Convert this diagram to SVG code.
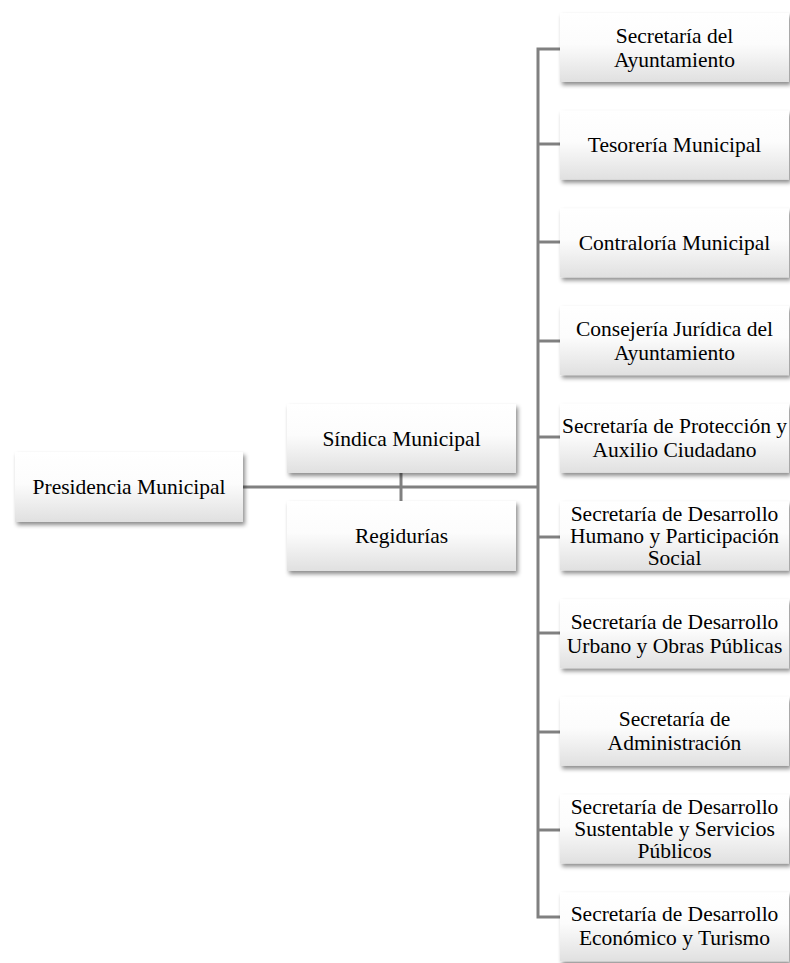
<svg xmlns="http://www.w3.org/2000/svg" width="790" height="963" viewBox="0 0 790 963">
<defs>
<linearGradient id="g" x1="0" y1="0" x2="0" y2="1">
<stop offset="0" stop-color="#ffffff"/>
<stop offset="0.45" stop-color="#fcfcfc"/>
<stop offset="1" stop-color="#e0e0e0"/>
</linearGradient>
<filter id="sh" x="-10%" y="-10%" width="125%" height="135%">
<feDropShadow dx="2" dy="3" stdDeviation="2" flood-color="#000" flood-opacity="0.45"/>
</filter>
</defs>
<style>
.box{fill:url(#g);filter:url(#sh);}
.t{font-family:"Liberation Serif","Times New Roman",serif;font-size:21.5px;fill:#000;text-anchor:middle;}
.c{stroke:#808080;stroke-width:3;fill:none;}
</style>
<rect width="790" height="963" fill="#ffffff"/>
<g id="connectors">
<line class="c" x1="243" y1="487" x2="538" y2="487"/>
<line class="c" x1="401" y1="473" x2="401" y2="501"/>
<polyline class="c" points="560,49 538,49 538,917 560,917"/>
<line class="c" x1="538" y1="144" x2="560" y2="144"/>
<line class="c" x1="538" y1="242" x2="560" y2="242"/>
<line class="c" x1="538" y1="341" x2="560" y2="341"/>
<line class="c" x1="538" y1="437" x2="560" y2="437"/>
<line class="c" x1="538" y1="537" x2="560" y2="537"/>
<line class="c" x1="538" y1="633" x2="560" y2="633"/>
<line class="c" x1="538" y1="732" x2="560" y2="732"/>
<line class="c" x1="538" y1="830" x2="560" y2="830"/>
</g>
<g id="presidencia">
<rect class="box" x="15" y="452" width="228" height="70"/>
<text class="t" x="129" y="494">Presidencia Municipal</text>
</g>
<g id="sindica">
<rect class="box" x="287" y="404" width="229" height="69"/>
<text class="t" x="401.5" y="446">Síndica Municipal</text>
</g>
<g id="regidurias">
<rect class="box" x="287" y="501" width="229" height="70"/>
<text class="t" x="401.5" y="543">Regidurías</text>
</g>
<g id="n0">
<rect class="box" x="560" y="13" width="229" height="69"/>
<text class="t" x="674.5" y="42.5">Secretaría del</text>
<text class="t" x="674.5" y="66.5">Ayuntamiento</text>
</g>
<g id="n1">
<rect class="box" x="560" y="110.7" width="229" height="69"/>
<text class="t" x="674.5" y="152">Tesorería Municipal</text>
</g>
<g id="n2">
<rect class="box" x="560" y="208.4" width="229" height="69"/>
<text class="t" x="674.5" y="250">Contraloría Municipal</text>
</g>
<g id="n3">
<rect class="box" x="560" y="306.1" width="229" height="69"/>
<text class="t" x="674.5" y="335.6">Consejería Jurídica del</text>
<text class="t" x="674.5" y="359.6">Ayuntamiento</text>
</g>
<g id="n4">
<rect class="box" x="560" y="403.8" width="229" height="69"/>
<text class="t" x="674.5" y="433">Secretaría de Protección y</text>
<text class="t" x="674.5" y="457">Auxilio Ciudadano</text>
</g>
<g id="n5">
<rect class="box" x="560" y="501.5" width="229" height="69"/>
<text class="t" x="674.5" y="521">Secretaría de Desarrollo</text>
<text class="t" x="674.5" y="543">Humano y Participación</text>
<text class="t" x="674.5" y="565">Social</text>
</g>
<g id="n6">
<rect class="box" x="560" y="599.2" width="229" height="69"/>
<text class="t" x="674.5" y="628.7">Secretaría de Desarrollo</text>
<text class="t" x="674.5" y="652.7">Urbano y Obras Públicas</text>
</g>
<g id="n7">
<rect class="box" x="560" y="696.9" width="229" height="69"/>
<text class="t" x="674.5" y="726.4">Secretaría de</text>
<text class="t" x="674.5" y="750.4">Administración</text>
</g>
<g id="n8">
<rect class="box" x="560" y="794.6" width="229" height="69"/>
<text class="t" x="674.5" y="814">Secretaría de Desarrollo</text>
<text class="t" x="674.5" y="836">Sustentable y Servicios</text>
<text class="t" x="674.5" y="858">Públicos</text>
</g>
<g id="n9">
<rect class="box" x="560" y="892.3" width="229" height="69"/>
<text class="t" x="674.5" y="921">Secretaría de Desarrollo</text>
<text class="t" x="674.5" y="945">Económico y Turismo</text>
</g>
</svg>
